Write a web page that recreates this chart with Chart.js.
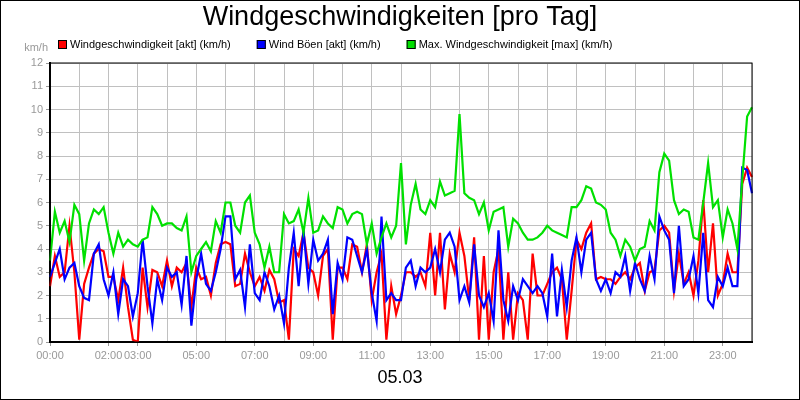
<!DOCTYPE html>
<html>
<head>
<meta charset="utf-8">
<script src="https://cdn.jsdelivr.net/npm/chart.js@4"></script>
<style>
  body { margin: 0; background: #fff; }
  #wrap { width: 800px; height: 400px; }
</style>
</head>
<body>
<div id="wrap"><canvas id="wind" width="800" height="400"></canvas></div>
<script>
// hour labels shown on the x axis
const shownHours = ['00:00', '02:00', '03:00', '05:00', '07:00', '09:00', '11:00', '13:00', '15:00', '17:00', '19:00', '21:00', '23:00'];

// readings every 10 minutes, 00:00 .. 24:00
const windAkt = [
  2.4, 3.7, 2.8, 3.0, 5.0, 3.0, 0.1, 2.5, 3.2, 3.8, 4.0, 3.9, 2.8, 2.8, 1.8, 3.2, 1.5, 0.1, 0.0, 3.2, 1.5, 3.1, 3.0, 2.4,
  3.5, 2.4, 3.2, 3.0, 3.4, 1.5, 3.2, 2.7, 2.8, 2.0, 3.4, 4.2, 4.3, 4.2, 2.4, 2.5, 3.8, 3.0, 2.4, 2.8, 2.2, 3.1, 2.7, 1.7,
  1.8, 0.1, 4.0, 3.7, 4.7, 3.2, 3.0, 2.0, 3.7, 4.0, 0.1, 3.2, 3.2, 2.7, 4.2, 4.1, 3.0, 4.2, 1.8, 3.0, 3.8, 0.1, 2.4, 1.2,
  2.0, 3.0, 3.0, 2.8, 3.0, 2.4, 4.7, 2.0, 4.7, 1.4, 3.8, 3.0, 4.7, 3.7, 1.8, 4.5, 0.1, 3.7, 0.1, 3.0, 4.0, 0.1, 3.0, 0.1,
  2.1, 1.8, 0.1, 3.8, 2.0, 2.0, 2.5, 3.0, 3.2, 2.7, 0.1, 2.2, 4.4, 4.0, 4.7, 5.1, 2.7, 2.8, 2.7, 2.7, 2.5, 2.8, 3.0, 2.7,
  3.2, 3.4, 2.2, 3.0, 3.1, 4.8, 5.0, 4.7, 2.2, 3.8, 2.5, 3.0, 2.0, 3.5, 6.1, 3.0, 5.1, 2.0, 2.5, 3.8, 3.0, 3.0, 6.8, 7.5,
  7.1
];
const windBoeen = [
  2.8, 3.4, 4.0, 2.7, 3.2, 3.4, 2.4, 1.9, 1.8, 3.8, 4.2, 2.7, 2.0, 3.0, 1.2, 2.7, 2.4, 1.1, 2.1, 4.4, 2.4, 0.8, 2.7, 1.8,
  3.2, 2.8, 3.0, 1.6, 3.7, 0.7, 2.7, 3.8, 2.5, 2.2, 3.0, 4.0, 5.4, 5.4, 2.7, 3.1, 1.5, 4.2, 2.1, 1.8, 3.0, 2.4, 1.4, 2.0,
  0.8, 3.2, 4.7, 2.4, 4.8, 2.5, 4.4, 3.5, 3.8, 4.4, 1.2, 3.4, 2.7, 4.5, 4.4, 3.7, 3.0, 4.0, 2.1, 0.9, 5.4, 1.8, 2.1, 1.8,
  1.8, 3.2, 3.5, 2.4, 3.2, 3.0, 3.2, 4.0, 3.0, 4.4, 4.7, 4.1, 1.8, 2.4, 1.7, 4.2, 2.0, 1.5, 2.1, 0.9, 4.8, 1.8, 0.9, 2.4,
  1.8, 2.7, 2.4, 2.1, 2.4, 2.1, 1.1, 3.8, 1.1, 3.1, 1.5, 3.5, 4.5, 3.0, 4.4, 4.7, 2.7, 2.2, 2.7, 2.1, 3.0, 2.8, 3.7, 2.2,
  3.4, 2.7, 2.2, 3.7, 2.7, 5.4, 4.8, 4.4, 2.1, 5.0, 2.4, 2.7, 3.7, 2.1, 4.7, 1.8, 1.5, 2.8, 2.4, 3.2, 2.4, 2.4, 7.5, 7.4,
  6.4
];
const windMax = [
  3.5, 5.6, 4.7, 5.2, 4.3, 5.9, 5.5, 3.5, 5.1, 5.7, 5.5, 5.8, 4.7, 3.8, 4.7, 4.1, 4.4, 4.2, 4.1, 4.4, 4.5, 5.8, 5.5, 5.0,
  5.1, 5.1, 4.9, 4.8, 5.4, 3.0, 3.7, 4.0, 4.3, 3.9, 5.2, 4.7, 6.0, 6.0, 5.0, 4.7, 6.0, 6.3, 4.7, 4.2, 3.2, 4.1, 3.0, 3.0,
  5.5, 5.1, 5.2, 5.7, 4.7, 6.2, 4.7, 4.8, 5.4, 5.1, 4.9, 5.8, 5.7, 5.1, 5.5, 5.6, 5.5, 4.2, 5.1, 3.8, 4.5, 5.1, 4.5, 5.0,
  7.7, 4.2, 5.9, 6.8, 5.7, 5.5, 6.1, 5.8, 6.9, 6.3, 6.4, 6.5, 9.8, 6.4, 6.2, 6.1, 5.5, 6.0, 4.8, 5.6, 5.7, 5.8, 4.1, 5.3,
  5.1, 4.7, 4.4, 4.4, 4.5, 4.7, 5.0, 4.8, 4.7, 4.6, 4.5, 5.8, 5.8, 6.1, 6.7, 6.6, 6.0, 5.9, 5.7, 4.7, 4.4, 3.7, 4.4, 4.1,
  3.5, 4.0, 4.1, 5.2, 4.8, 7.3, 8.1, 7.8, 6.1, 5.5, 5.7, 5.6, 4.5, 4.4, 6.0, 7.7, 5.8, 6.1, 4.5, 5.7, 5.1, 4.0, 7.0, 9.7,
  10.1
];

const seriesNames = ['Windgeschwindigkeit [akt] (km/h)', 'Wind Böen [akt] (km/h)', 'Max. Windgeschwindigkeit [max] (km/h)'];
const seriesColors = ['#ff0000', '#0000ff', '#00e000'];

let times = [];
for (let i = 0; i < windAkt.length; i++) {
    let h = Math.floor(i / 6), m = (i % 6) * 10;
    times.push(String(h).padStart(2, '0') + ':' + String(m).padStart(2, '0'));
}

// title, legend, unit, date label and frames
const decorations = {
    id: 'decorations',
    afterDraw(chart) {
        let ctx = chart.ctx, a = chart.chartArea;
        ctx.save();
        ctx.fillStyle = '#000';
        ctx.textBaseline = 'middle';
        ctx.textAlign = 'center';
        ctx.font = '27px "Liberation Sans", Arial, sans-serif';
        ctx.fillText('Windgeschwindigkeiten [pro Tag]', 400, 18);
        ctx.font = '18px "Liberation Sans", Arial, sans-serif';
        ctx.fillText('05.03', 400, 378);

        ctx.font = '11px "Liberation Sans", Arial, sans-serif';
        ctx.textAlign = 'left';
        let x = 58;
        for (let i = 0; i < seriesNames.length; i++) {
            ctx.fillStyle = seriesColors[i];
            ctx.fillRect(x, 40, 9, 9);
            ctx.strokeStyle = '#000';
            ctx.lineWidth = 1;
            ctx.strokeRect(x + 0.5, 40.5, 8, 8);
            ctx.fillStyle = '#000';
            ctx.fillText(seriesNames[i], x + 12, 45);
            x += ctx.measureText(seriesNames[i]).width + 12 + 26;
        }
        ctx.fillStyle = '#999';
        ctx.textAlign = 'right';
        ctx.fillText('km/h', 48, 48);

        ctx.strokeStyle = '#000';
        ctx.lineWidth = 1;
        ctx.strokeRect(a.left, a.top, a.right - a.left, a.bottom - a.top);
        ctx.strokeRect(0.5, 0.5, 799, 399);
        ctx.restore();
    }
};

function makeDataset(i, values) {
    return {
        label: seriesNames[i],
        data: values,
        borderColor: seriesColors[i],
        backgroundColor: seriesColors[i],
        borderWidth: 2.2,
        pointRadius: 0,
        tension: 0
    };
}

new Chart(document.getElementById('wind'), {
    type: 'line',
    data: {
        labels: times,
        datasets: [makeDataset(2, windMax), makeDataset(1, windBoeen), makeDataset(0, windAkt)]
    },
    options: {
        responsive: false,
        animation: false,
        layout: { padding: { left: 0, right: 48, top: 63, bottom: 0 } },
        plugins: { legend: { display: false }, tooltip: { enabled: false } },
        scales: {
            x: {
                offset: false,
                afterFit: s => { s.height = 58; },
                border: { color: '#000', width: 2 },
                grid: {
                    color: c => (c.index % 6 === 0 ? '#c0c0c0' : 'transparent'),
                    tickColor: c => (shownHours.includes(times[c.index]) ? '#999' : 'transparent'),
                    tickLength: 4
                },
                ticks: {
                    autoSkip: false,
                    maxRotation: 0,
                    color: '#999',
                    font: { size: 11, family: '"Liberation Sans", Arial' },
                    callback: (v, i) => (shownHours.includes(times[i]) ? times[i] : '')
                }
            },
            y: {
                min: 0,
                max: 12,
                afterFit: s => { s.width = 50; },
                border: { color: '#000', width: 2 },
                grid: { color: '#c0c0c0', tickColor: '#999', tickLength: 4 },
                ticks: {
                    stepSize: 1,
                    color: '#999',
                    font: { size: 11, family: '"Liberation Sans", Arial' }
                }
            }
        }
    },
    plugins: [decorations]
});
</script>
</body>
</html>
